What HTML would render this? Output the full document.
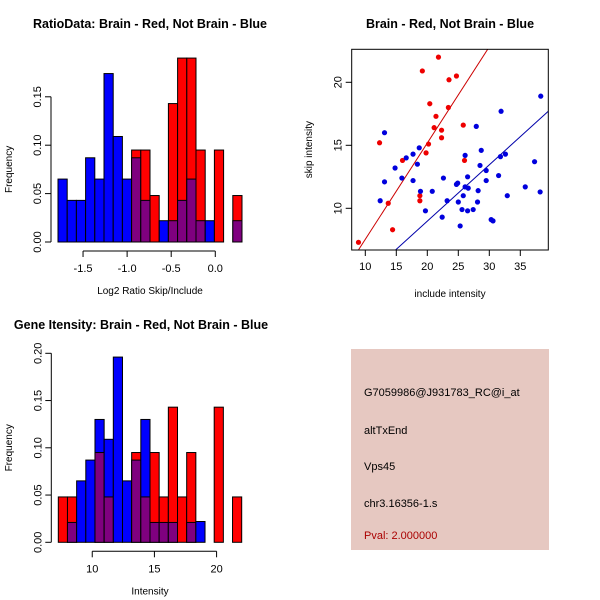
<!DOCTYPE html>
<html><head><meta charset="utf-8"><style>
html,body{margin:0;padding:0;background:#fff}
svg{display:block;font-family:"Liberation Sans",sans-serif}
</style></head><body>
<svg id="c" width="600" height="600" viewBox="0 0 600 600"></svg>
<script>
// Ratio histogram data (20 bins)
const ratioRed  = [0,0,0,0,0,0,0,0,0.095,0.095,0.048,0,0.143,0.190,0.190,0.095,0,0.095,0,0.048];
const ratioBlue = [0.065,0.043,0.043,0.087,0.065,0.174,0.109,0.065,0.087,0.043,0,0.022,0.022,0.043,0.065,0.022,0.022,0,0,0.022];
const ratioRange = [-1.784, 0.303];
const ratioXTicks = [-1.5,-1.0,-0.5,0.0];
const ratioYTicks = [0.00,0.05,0.10,0.15];
// Intensity histogram data (20 bins)
const intRed  = [0.048,0.048,0,0,0.095,0.048,0,0,0.095,0.048,0.095,0.048,0.143,0.048,0.095,0,0,0.143,0,0.048];
const intBlue = [0,0.021,0.065,0.087,0.130,0.109,0.196,0.065,0.087,0.130,0.021,0.021,0.021,0,0.021,0.022,0,0,0,0];
const intRange = [7.27, 22.02];
const intXTicks = [10,15,20];
const intYTicks = [0.00,0.05,0.10,0.15,0.20];
// Scatter data
const redX = [21.8,19.2,23.5,24.7,20.4,23.4,21.4,21.1,22.3,22.3,25.8,12.3,20.2,19.8,16.0,26.0,13.7,18.8,18.8,14.4,8.9];
const redY = [22.0,20.9,20.2,20.5,18.3,18.0,17.3,16.4,16.2,15.6,16.6,15.2,15.1,14.4,13.8,13.8,10.4,11.0,10.6,8.3,7.3];
const blueX = [38.3,31.9,13.1,27.9,18.7,17.7,16.6,18.4,14.8,28.7,26.1,31.8,32.6,28.5,37.3,13.1,15.9,17.7,22.6,26.5,29.5,31.5,29.5,24.9,24.7,26.1,26.6,28.2,35.8,38.2,32.9,18.9,20.8,12.4,23.2,25.8,25.0,28.1,19.7,25.6,26.5,27.4,22.4,25.3,30.3,30.6];
const blueY = [18.9,17.7,16.0,16.5,14.8,14.3,14.0,13.5,13.2,14.6,14.2,14.1,14.3,13.4,13.7,12.1,12.4,12.2,12.4,12.5,13.0,12.6,12.2,12.0,11.9,11.7,11.6,11.4,11.7,11.3,11.0,11.35,11.35,10.6,10.6,11.0,10.5,10.5,9.8,9.9,9.8,9.9,9.3,8.6,9.1,9.0];
const redFit = [-0.1, 0.764];
const blueFit = [0.04, 0.447];
const scXTicks = [10,15,20,25,30,35];
const scYTicks = [10,15,20];
const infoLines = ["G7059986@J931783_RC@i_at","altTxEnd","Vps45","chr3.16356-1.s"];

const svg = document.getElementById('c');
const NS = 'http://www.w3.org/2000/svg';
function mk(tag, attrs, parent){const e=document.createElementNS(NS,tag);for(const k in attrs)e.setAttribute(k,attrs[k]);(parent||svg).appendChild(e);return e;}
function txt(s, attrs, parent){const e=mk('text',attrs,parent);e.textContent=s;return e;}

function hist(g, red, blue, range, xt, yt, px0, px1, py0, yScale, xLabel, title, titleX, titleY, fmt){
  const n = red.length, bw = (px1-px0)/n;
  const xs = v => px0 + (v-range[0])/(range[1]-range[0])*(px1-px0);
  const ys = v => py0 - v*yScale;
  for(let i=0;i<n;i++){
    const r=red[i], b=blue[i], lo=Math.min(r,b), hi=Math.max(r,b);
    if(hi<=0) continue;
    const x=px0+i*bw;
    let e=mk('rect',{x:x,y:ys(hi),width:bw,height:hi*yScale,fill:r>=b?'#ff0000':'#0000ff',stroke:'#000','stroke-width':1},g);
    
    
    if(lo>0){
      e=mk('rect',{x:x,y:ys(lo),width:bw,height:lo*yScale,fill:'#7f007f',stroke:'#000','stroke-width':1},g);
      
      
    }
  }
  const axY = py0+9;
  mk('line',{x1:xs(xt[0]),x2:xs(xt[xt.length-1]),y1:axY,y2:axY,stroke:'#000'},g);
  xt.forEach(t=>{mk('line',{x1:xs(t),x2:xs(t),y1:axY,y2:axY+6,stroke:'#000'},g);
    const e=txt(fmt(t),{x:xs(t),y:axY+21,'text-anchor':'middle','font-size':11},g);
    });
  const axX = px0-7;
  mk('line',{x1:axX,x2:axX,y1:ys(yt[0]),y2:ys(yt[yt.length-1]),stroke:'#000'},g);
  yt.forEach(t=>{mk('line',{x1:axX,x2:axX-6,y1:ys(t),y2:ys(t),stroke:'#000'},g);
    const e=txt(t.toFixed(2),{x:0,y:0,transform:`translate(${axX-10},${ys(t)}) rotate(-90)`,'text-anchor':'middle','font-size':11},g);
    });
  let e=txt('Frequency',{transform:`translate(12,${(py0+ys(yt[yt.length-1]))/2}) rotate(-90)`,'text-anchor':'middle','font-size':10},g);
  
  e=txt(xLabel,{x:(px0+px1)/2,y:axY+43,'text-anchor':'middle','font-size':10},g);
  
  e=txt(title,{x:titleX,y:titleY,'text-anchor':'middle','font-size':12.5,'font-weight':'bold'},g);
  
}

let g1 = mk('g',{});
hist(g1, ratioRed, ratioBlue, ratioRange, ratioXTicks, ratioYTicks, 58, 242, 242, 968,
  'Log2 Ratio Skip/Include','RatioData: Brain - Red, Not Brain - Blue',150,28, t=>t===0?'0.0':t.toFixed(1));
let g3 = mk('g',{});
hist(g3, intRed, intBlue, intRange, intXTicks, intYTicks, 58.3, 241.7, 542.3, 945,
  'Intensity','Gene Itensity: Brain - Red, Not Brain - Blue',141,329, t=>String(t));

// Scatter
const g2 = mk('g',{});
const L=351.7,R=548.3,T=49.3,B=250;
const sx = v => 365.3 + (v-10)*6.2;
const sy = v => 208.3 - (v-10)*12.6;
const xmin=(L-365.3)/6.2+10, xmax=(R-365.3)/6.2+10;
const clip = mk('clipPath',{id:'sc'},g2); mk('rect',{x:L,y:T,width:R-L,height:B-T},clip);
function fitLine(f,color,name){
  const e=mk('line',{x1:sx(xmin),y1:sy(f[0]+f[1]*xmin),x2:sx(xmax),y2:sy(f[0]+f[1]*xmax),stroke:color,'stroke-width':1,'clip-path':'url(#sc)'},g2);
  
}
fitLine(redFit,'#cc0000','red-fit-line');
fitLine(blueFit,'#0000aa','blue-fit-line');
redX.forEach((x,i)=>{const e=mk('circle',{cx:sx(x),cy:sy(redY[i]),r:2.6,fill:'#ee0000'},g2);
  });
blueX.forEach((x,i)=>{const e=mk('circle',{cx:sx(x),cy:sy(blueY[i]),r:2.6,fill:'#0000dd'},g2);
  });
mk('rect',{x:L,y:T,width:R-L,height:B-T,fill:'none',stroke:'#000'},g2);
scXTicks.forEach(t=>{mk('line',{x1:sx(t),x2:sx(t),y1:B,y2:B+6,stroke:'#000'},g2);
  const e=txt(String(t),{x:sx(t),y:B+20,'text-anchor':'middle','font-size':11},g2);
  });
scYTicks.forEach(t=>{mk('line',{x1:L,x2:L-6,y1:sy(t),y2:sy(t),stroke:'#000'},g2);
  const e=txt(String(t),{transform:`translate(${L-10},${sy(t)}) rotate(-90)`,'text-anchor':'middle','font-size':11},g2);
  });
let e=txt('include intensity',{x:(L+R)/2,y:297,'text-anchor':'middle','font-size':10},g2);

e=txt('skip intensity',{transform:`translate(312,${(T+B)/2}) rotate(-90)`,'text-anchor':'middle','font-size':10},g2);

e=txt('Brain - Red, Not Brain - Blue',{x:450,y:28,'text-anchor':'middle','font-size':12.5,'font-weight':'bold'},g2);


// Info box
const g4 = mk('g',{});
mk('rect',{x:351,y:349,width:198,height:201,fill:'#e6c8c1'},g4);
const baselines=[396,434,470,507];
infoLines.forEach((s,i)=>{const e=txt(s,{x:364,y:baselines[i],'font-size':11,fill:'#000'},g4);
  });
e=txt('Pval: 2.000000',{x:364,y:539,'font-size':11,fill:'#aa0000'},g4);

</script>
</body></html>
